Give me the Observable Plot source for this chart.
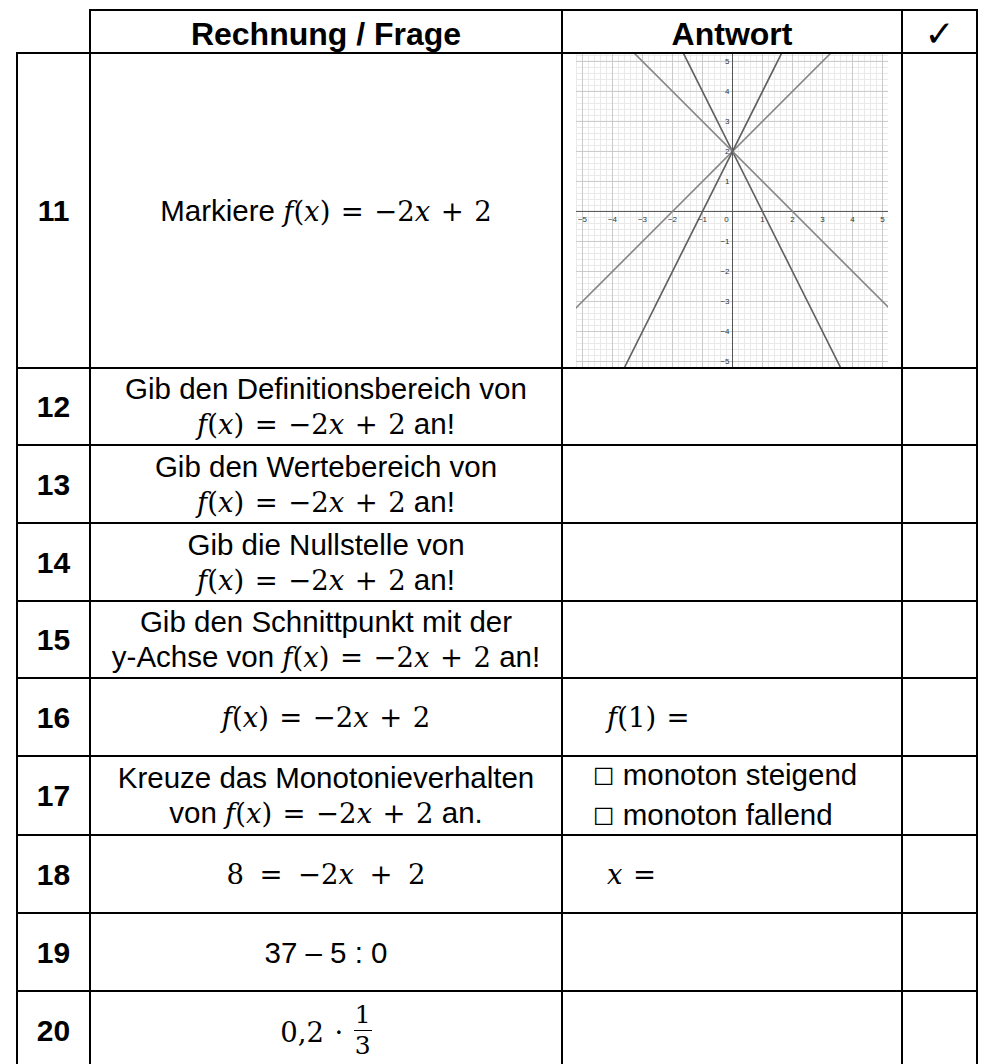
<!DOCTYPE html>
<html>
<head>
<meta charset="utf-8">
<script src="https://cdn.jsdelivr.net/npm/d3@7"></script>
<script src="https://cdn.jsdelivr.net/npm/@observablehq/plot@0.6"></script>
<style>
html,body{margin:0;padding:0;background:#fff;}
body{width:986px;height:1064px;overflow:hidden;position:relative;font-family:"Liberation Sans",Arial,sans-serif;color:#000;}
#sheet{position:absolute;left:16px;top:9px;display:grid;background:#000;padding:2px;gap:2px;
  grid-template-columns:71px 470px 338px 73px;
  grid-template-rows:41px 313px 75px 76px 76px 75px 76px 77px 76px 76px 76px;}
.cell{background:#fff;display:flex;flex-direction:column;align-items:center;justify-content:center;text-align:center;font-size:29.5px;line-height:35px;overflow:visible;}
.corner{margin:-2px 0 0 -2px;}
.head{font-weight:bold;font-size:32px;padding-top:5px;box-sizing:border-box;}
.check{font-family:"DejaVu Sans",sans-serif;font-weight:normal;font-size:36px;padding-top:3px;}
.num{font-weight:bold;font-size:30px;}
.ans{align-items:flex-start;text-align:left;padding-left:30px;box-sizing:border-box;}
.ans.multi{line-height:37px;}
.ans .m{margin-left:14px;}
.graphcell{align-items:center;padding-left:0;}
.line{white-space:nowrap;}
.m{font-family:"DejaVu Serif",serif;font-size:27.5px;white-space:nowrap;}
.mi{font-style:italic;}
.op{margin:0 0.38em;}
.sp{display:inline-block;width:5px;}
.box{font-family:"DejaVu Sans",sans-serif;font-size:24px;}
.frac{display:inline-flex;flex-direction:column;align-items:center;vertical-align:19px;line-height:30px;font-size:25px;margin:-6px 0 -7px 0;}
.frac .den{border-top:1.6px solid #000;padding:0 1px;}
</style>
</head>
<body>
<div id="sheet"></div>
<script>
// ---------- table content ----------
const headers = ["Rechnung / Frage", "Antwort", "✓"];
const rowNumbers = ["11", "12", "13", "14", "15", "16", "17", "18", "19", "20"];
const questions = [
  "Markiere $f(x)=−2x+2$",
  "Gib den Definitionsbereich von\n$f(x)=−2x+2$ an!",
  "Gib den Wertebereich von\n$f(x)=−2x+2$ an!",
  "Gib die Nullstelle von\n$f(x)=−2x+2$ an!",
  "Gib den Schnittpunkt mit der\ny-Achse von  $f(x)=−2x+2$ an!",
  "$f(x)=−2x+2$",
  "Kreuze das Monotonieverhalten\nvon $f(x)=−2x+2$ an.",
  "$8 = −2x + 2$",
  "37 – 5 : 0",
  "$0,2·{1/3}$"
];
const answers = ["GRAPH", "", "", "", "", "$f(1)=$", "☐ monoton steigend\n☐ monoton fallend", "$x=$", "", ""];

// ---------- graph content (answer of row 11) ----------
const xDomain = [-5.2, 5.2];
const yDomain = [-5.2, 5.23];
const xTickValues = [-5, -4, -3, -2, -1, 1, 2, 3, 4, 5];
const yTickValues = [-5, -4, -3, -2, -1, 1, 2, 3, 4, 5];
const originLabel = ["0"];
// the four drawn straight lines, each given by two points on it
const lineNames  = ["−2x+2", "−x+2", "x+2", "2x+2"];
const lineStartX = [-2, -4, -6, -4];
const lineStartY = [ 6,  6, -4, -6];
const lineEndX   = [ 4,  6,  4,  2];
const lineEndY   = [-6, -4,  6,  6];

// ---------- helpers ----------
function esc(s){return s.replace(/&/g,"&amp;").replace(/</g,"&lt;");}
function mathHTML(s){
  let out = "", prev = null;
  const toks = s.match(/\{[^}]*\}|./gu);
  for (const t of toks){
    if (t.startsWith("{")){
      const [a,b] = t.slice(1,-1).split("/");
      out += `<span class="frac"><span class="numr">${a}</span><span class="den">${b}</span></span>`;
      prev = "x"; continue;
    }
    if (t === " "){ out += '<span class="sp"></span>'; continue; }
    if (/[a-zA-Z]/.test(t)){ out += `<span class="mi">${t}</span>`; prev = "x"; }
    else if (t === "=" || t === "+" || t === "·" || (t === "−" && prev && prev !== "op")){
      out += `<span class="op">${t}</span>`; prev = "op";
    } else { out += esc(t); prev = (t === "−") ? "op" : "x"; }
  }
  return `<span class="m">${out}</span>`;
}
function plainHTML(s){return esc(s).replace(/☐/g,'<span class="box">☐</span>');}
function richHTML(s){
  return s.split("\n").map(line =>
    '<div class="line">' + line.split(/(\$[^$]*\$)/).map(part =>
      part.startsWith("$") ? mathHTML(part.slice(1,-1)) : plainHTML(part)).join("") + '</div>'
  ).join("");
}

// ---------- graph ----------
function graph(){
  const minor = d3.range(-26, 27).map(i => i / 5);
  const major = d3.range(-5, 6);
  const lines = lineNames.map((name, i) => ({name, x1: lineStartX[i], y1: lineStartY[i], x2: lineEndX[i], y2: lineEndY[i]}));
  const fmt = d3.format("d");
  return Plot.plot({
    width: 312, height: 313, margin: 0,
    style: {background: "#fff", fontFamily: "Liberation Sans, Arial, sans-serif"},
    x: {domain: xDomain, axis: null},
    y: {domain: yDomain, axis: null},
    marks: [
      Plot.ruleX(minor, {stroke: "#e9e9e9", strokeWidth: 1}),
      Plot.ruleY(minor, {stroke: "#e9e9e9", strokeWidth: 1}),
      Plot.ruleX(major, {stroke: "#cacaca", strokeWidth: 1}),
      Plot.ruleY(major, {stroke: "#cacaca", strokeWidth: 1}),
      Plot.ruleX([0], {stroke: "#555", strokeWidth: 1}),
      Plot.ruleY([0], {stroke: "#555", strokeWidth: 1}),
      Plot.link(lines, {x1: "x1", y1: "y1", x2: "x2", y2: "y2", clip: true, strokeWidth: 1.6,
        stroke: d => (d.name === "−2x+2" || d.name === "2x+2") ? "#5e5e5e" : "#858585"}),
      Plot.text(xTickValues, {x: d => d, y: 0, text: d => fmt(d), dy: 8, fontSize: 8, fill: "#333"}),
      Plot.text(yTickValues, {x: 0, y: d => d, text: d => fmt(d), dx: -3, textAnchor: "end", fontSize: 8, fill: "#333"}),
      Plot.text(originLabel, {x: 0, y: 0, text: d => d, dx: -6, dy: 8, fontSize: 8, fill: "#333"})
    ]
  });
}

// ---------- build table ----------
const sheet = document.getElementById("sheet");
function addCell(cls, html){
  const c = document.createElement("div");
  c.className = "cell " + cls;
  if (html !== undefined) c.innerHTML = html;
  sheet.appendChild(c);
  return c;
}
addCell("corner", "");
addCell("head", esc(headers[0]));
addCell("head", esc(headers[1]));
addCell("head check", esc(headers[2]));
rowNumbers.forEach((n, i) => {
  addCell("num", esc(n));
  addCell("q", richHTML(questions[i]));
  const a = answers[i];
  if (a === "GRAPH"){
    const c = addCell("graphcell");
    c.appendChild(graph());
  } else {
    addCell("ans" + (a.includes("\n") ? " multi" : ""), a ? richHTML(a) : "");
  }
  addCell("chk", "");
});
</script>
</body>
</html>
